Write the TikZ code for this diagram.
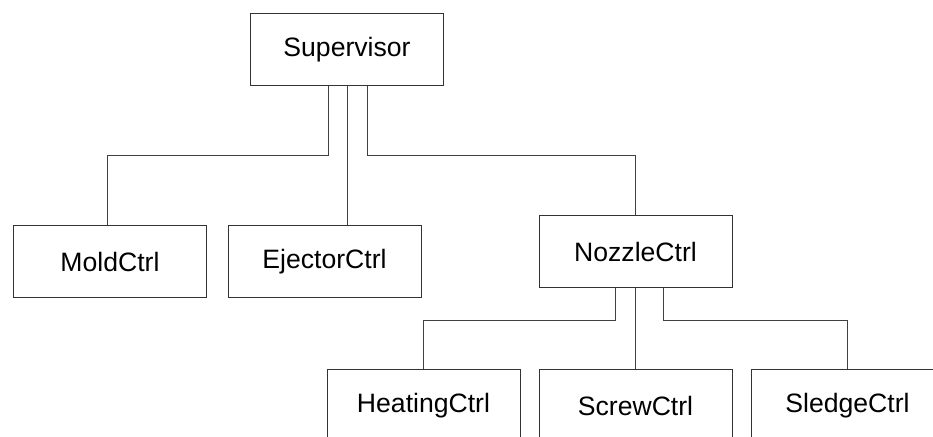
\documentclass[tikz,border=0pt]{standalone}
\usepackage{fontspec}
\setmainfont{Liberation Sans}
\usepackage{tikz}

\begin{document}
\begin{tikzpicture}[x=0.5pt,y=-0.5pt,line width=0.5pt,
    ctrl/.style={draw=black!80,minimum width=96.5pt,minimum height=36pt,inner sep=0pt,
      font=\fontsize{13.3}{16}\selectfont},
    link/.style={draw=black!75}]
  \clip (0,0) rectangle (933,437);
  \node[ctrl] (sup) at (347,49.5) {Supervisor};
  \node[ctrl] (mold) at (110,262) {MoldCtrl};
  \node[ctrl] (ejector) at (324.5,262) {EjectorCtrl};
  \node[ctrl] (nozzle) at (635.5,252) {NozzleCtrl};
  \node[ctrl] (heating) at (423.5,406) {HeatingCtrl};
  \node[ctrl] (screw) at (635.5,406) {ScrewCtrl};
  \node[ctrl] (sledge) at (847.5,406) {SledgeCtrl};
  \draw[link] ([xshift=-9.5pt]sup.south) -- ++(0,70) -| ([xshift=-1.5pt]mold.north);
  \draw[link] (sup.south) -- (sup.south |- ejector.north);
  \draw[link] ([xshift=10pt]sup.south) -- ++(0,70) -| (nozzle.north);
  \draw[link] ([xshift=-10pt]nozzle.south) -- ++(0,32) -| (heating.north);
  \draw[link] (nozzle.south) -- (screw.north);
  \draw[link] ([xshift=14pt]nozzle.south) -- ++(0,32) -| (sledge.north);
\end{tikzpicture}
\end{document}
